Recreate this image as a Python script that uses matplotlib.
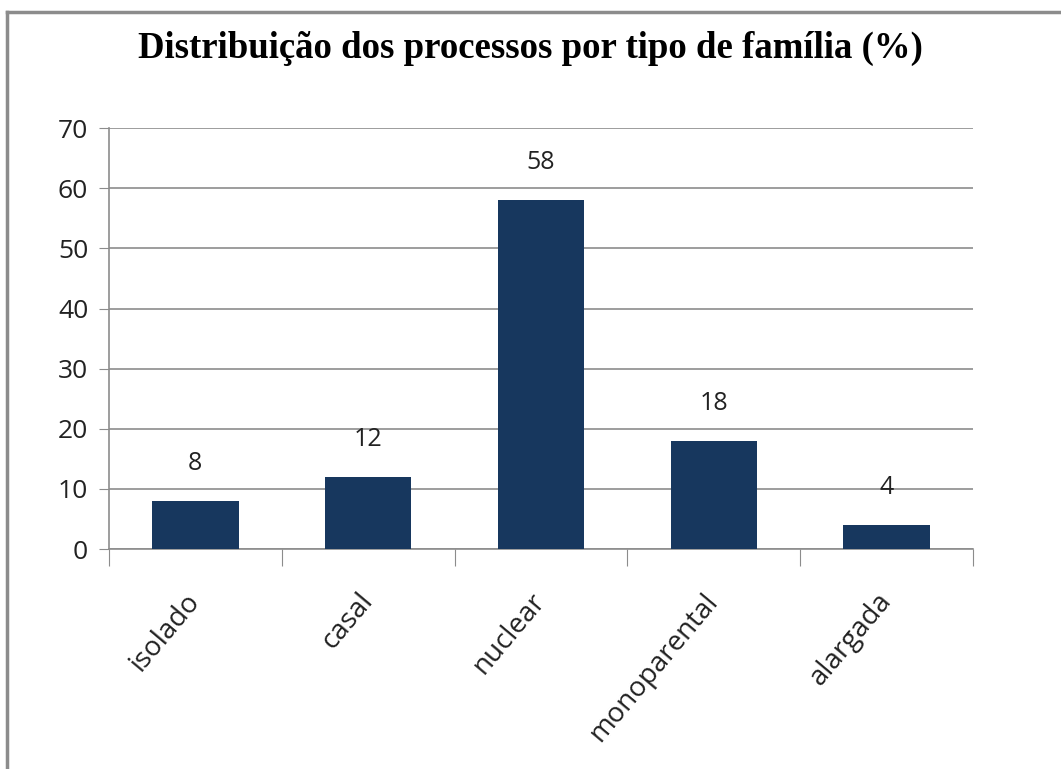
import matplotlib.pyplot as plt
from matplotlib.lines import Line2D

categories = ["isolado", "casal", "nuclear", "monoparental", "alargada"]
values = [8, 12, 58, 18, 4]
yticks = [0, 10, 20, 30, 40, 50, 60, 70]

bar_color = "#17375E"
grid_color = "#8C8C8C"

plt.rcParams['font.family'] = ['Open Sans', 'DejaVu Sans']

fig = plt.figure(figsize=(10.61, 7.69), dpi=100)
ax = fig.add_axes([0.1027, 0.286, 0.8143, 0.5474])

x = list(range(len(categories)))
ax.bar(x, values, width=0.5, color=bar_color, zorder=3)

for xi, v in zip(x, values):
    ax.annotate(str(v), (xi, v), xytext=(0, 27), textcoords="offset points",
                ha="center", va="center", fontsize=18, color="#222222")

ax.set_xlim(-0.5, len(categories) - 0.5)
ax.set_ylim(0, 70)
ax.set_yticks(yticks)
ax.tick_params(axis="y", labelsize=19, length=7, color=grid_color, pad=8,
               labelcolor="#222222")
ax.yaxis.grid(True, color=grid_color, linewidth=1.2, zorder=0)

# category ticks sit between bars
ax.set_xticks([i - 0.5 for i in range(len(categories) + 1)])
ax.set_xticklabels([])
ax.set_xticks(x, minor=True)
ax.set_xticklabels(categories, minor=True, rotation=50, ha="right",
                   va="center", rotation_mode="anchor", fontsize=20,
                   color="#222222")
ax.tick_params(axis="x", which="major", length=12, color=grid_color)
ax.tick_params(axis="x", which="minor", length=0, pad=34)

for side in ["top", "right"]:
    ax.spines[side].set_visible(False)
for side in ["left", "bottom"]:
    ax.spines[side].set_color(grid_color)
    ax.spines[side].set_linewidth(1.2)

fig.text(0.5, 0.937, "Distribuição dos processos por tipo de família (%)",
         ha="center", va="center", fontsize=26.5, fontweight="bold",
         family="Liberation Serif", color="black")

# outer chart border (top and left edges visible)
fig.add_artist(Line2D([0.007, 1.0], [0.985, 0.985], transform=fig.transFigure,
                      color="#8C8C8C", linewidth=2.5))
fig.add_artist(Line2D([0.007, 0.007], [0.0, 0.985], transform=fig.transFigure,
                      color="#8C8C8C", linewidth=2.5))

fig.savefig("out.png", dpi=100)
